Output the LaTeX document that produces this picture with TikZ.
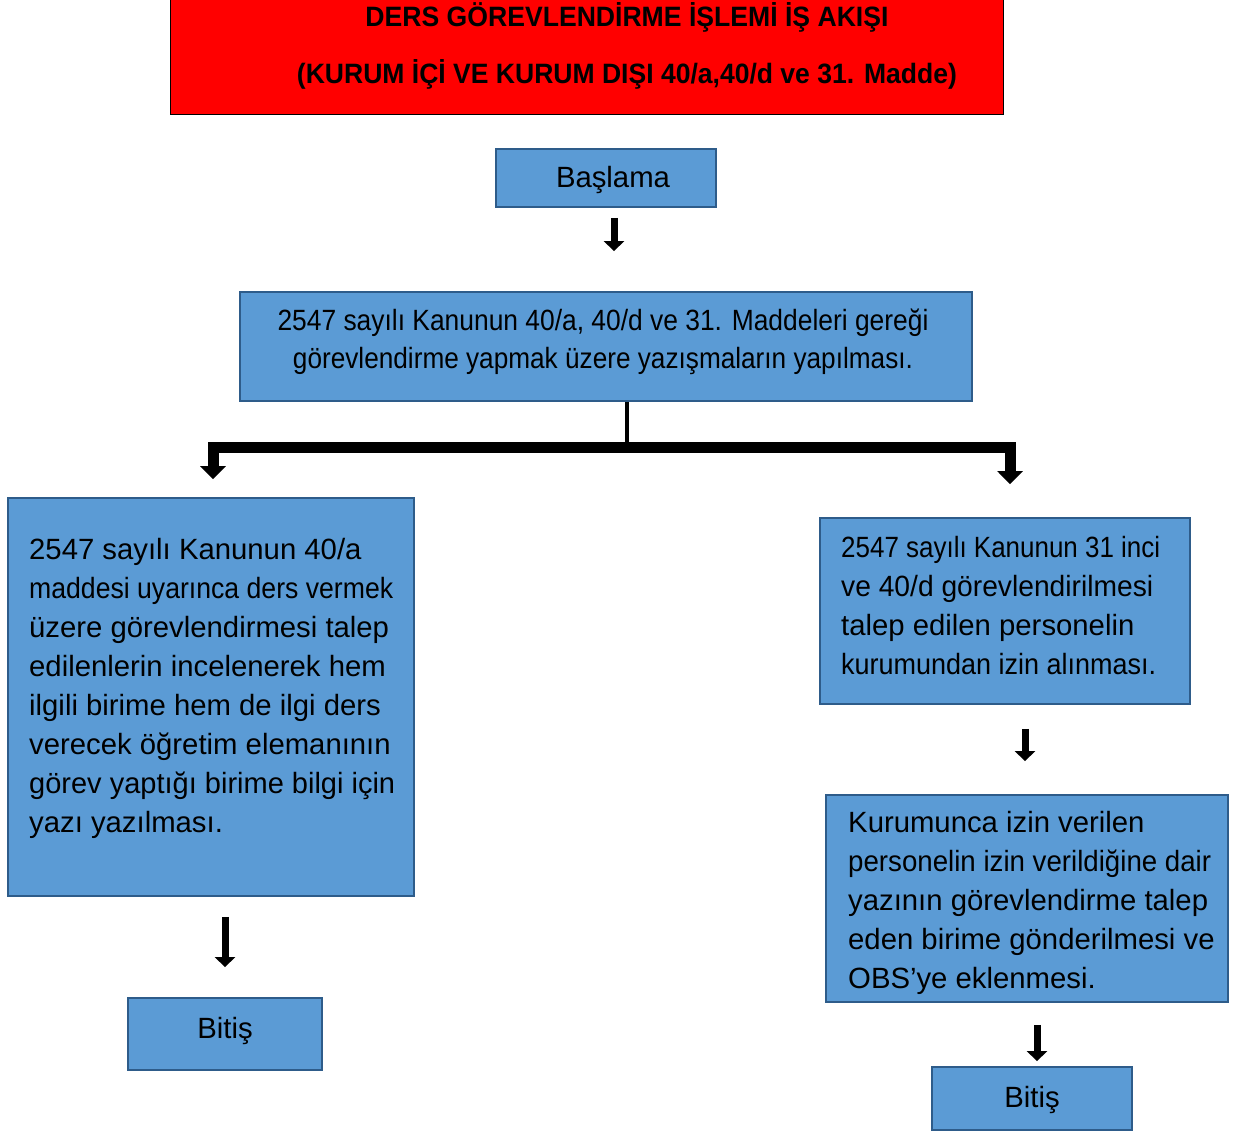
\documentclass[tikz,border=0pt]{standalone}
\usepackage{fontspec}
\setmainfont{Liberation Sans}
\usepackage{graphicx}
\usetikzlibrary{arrows.meta}
\definecolor{boxblue}{HTML}{5B9BD5}
\definecolor{boxline}{HTML}{2E5C8A}
\definecolor{titlered}{HTML}{FF0000}
\newcommand\fitw[2]{\resizebox{#1}{\height}{#2}}
\begin{document}
\begin{tikzpicture}[x=1pt,y=-1pt,
  bx/.style={draw=boxline, fill=boxblue, line width=1.8pt, inner sep=0pt, rectangle},
  txt/.style={font=\fontsize{29.3}{39}\selectfont, align=left, inner sep=0pt, text=black},
  ctxt/.style={font=\fontsize{29.3}{38}\selectfont, align=center, inner sep=0pt, text=black},
  ttl/.style={font=\fontsize{28}{30}\selectfont\bfseries, inner sep=0pt, text=black},
  arr/.style={line width=7pt, -{Triangle[width=20pt,length=10pt]}},
  brarr/.style={line width=11pt, -{Triangle[width=25pt,length=13pt]}},
  stem/.style={line width=4pt}]
\useasboundingbox (0,0) rectangle (1235,1132);
\fill[white] (0,0) rectangle (1235,1132);

% title
\node[draw=black, fill=titlered, line width=1pt, minimum width=833pt, minimum height=114pt, inner sep=0pt] (title) at (586.5,57) {};
\node[ttl] (t1) at (627,17) {\fitw{523pt}{DERS GÖREVLENDİRME İŞLEMİ İŞ AKIŞI}};
\node[ttl] (t2) at (627,74) {\fitw{660pt}{(KURUM İÇİ VE KURUM DIŞI 40/a,40/d ve 31. Madde)}};

% start
\node[bx, minimum width=220pt, minimum height=58pt] (start) at (606,178) {};
\node[ctxt] (startt) at (613,180) {Başlama};

% box 2
\node[bx, minimum width=732pt, minimum height=109pt] (b2) at (606,346.5) {};
\node[ctxt, anchor=north] (b2t) at (603,309) {\fitw{651pt}{2547 sayılı Kanunun 40/a, 40/d ve 31. Maddeleri gereği}\\
\fitw{620pt}{görevlendirme yapmak üzere yazışmaların yapılması.}};

% left box
\node[bx, minimum width=406pt, minimum height=398pt] (lb) at (211,697) {};
\node[txt, anchor=north west] (lbt) at (29,538) {2547 sayılı Kanunun 40/a\\
\fitw{364pt}{maddesi uyarınca ders vermek}\\
üzere görevlendirmesi talep\\
edilenlerin incelenerek hem\\
ilgili birime hem de ilgi ders\\
verecek öğretim elemanının\\
\fitw{366pt}{görev yaptığı birime bilgi için}\\
yazı yazılması.};

\node[bx, minimum width=194pt, minimum height=72pt] (lend) at (225,1034) {};
\node[ctxt] (lendt) at (225,1031) {Bitiş};

% right boxes
\node[bx, minimum width=370pt, minimum height=186pt] (r1) at (1005,611) {};
\node[txt, anchor=north west] (r1t) at (841,536) {\fitw{319pt}{2547 sayılı Kanunun 31 inci}\\
\fitw{312pt}{ve 40/d görevlendirilmesi}\\
talep edilen personelin\\
\fitw{315pt}{kurumundan izin alınması.}};

\node[bx, minimum width=402pt, minimum height=207pt] (r2) at (1027,898.5) {};
\node[txt, anchor=north west] (r2t) at (848,811) {Kurumunca izin verilen\\
\fitw{363pt}{personelin izin verildiğine dair}\\
yazının görevlendirme talep\\
eden birime gönderilmesi ve\\
OBS’ye eklenmesi.};

\node[bx, minimum width=200pt, minimum height=63pt] (rend) at (1032,1098.5) {};
\node[ctxt] (rendt) at (1032,1100) {Bitiş};

% connector coordinates
\coordinate (x1) at (614,0);
\coordinate (x2) at (225,0);
\coordinate (x3) at (1025,0);
\coordinate (x4) at (1037,0);
\coordinate (xl) at (213,0);
\coordinate (xr) at (1010,0);
\coordinate (j) at (627,447);

% arrows
\draw[arr, shorten <=10pt, shorten >=40pt] (start.south -| x1) -- (b2.north -| x1);
\draw[stem] (b2.south -| j) -- (j);
\draw[brarr, shorten >=18pt] (j) -| (lb.north -| xl);
\draw[brarr, shorten >=33pt] (j) -| (r1.north -| xr);
\draw[arr, shorten <=20pt, shorten >=30pt] (lb.south -| x2) -- (lend.north -| x2);
\draw[arr, shorten <=24pt, shorten >=33pt] (r1.south -| x3) -- (r2.north -| x3);
\draw[arr, shorten <=22pt, shorten >=5pt] (r2.south -| x4) -- (rend.north -| x4);
\end{tikzpicture}
\end{document}
